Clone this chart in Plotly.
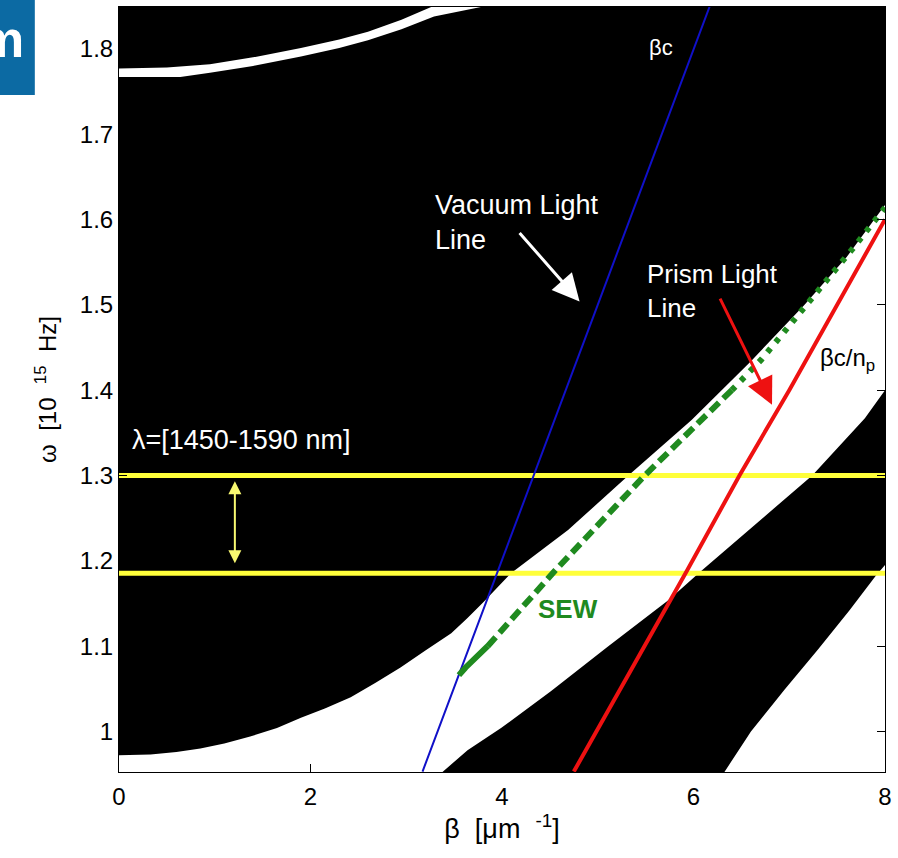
import plotly.graph_objects as go

# ---------------- data ----------------
# beta in [1/um], omega in [1e15 Hz]
band_top_lower_beta = [0.0, 0.64, 0.95, 1.4, 1.9, 2.3, 2.6, 2.95, 3.29, 3.78, 3.9]
band_top_lower_omega = [1.767, 1.767, 1.772, 1.780, 1.791, 1.801, 1.81, 1.823, 1.838, 1.849, 1.86]
band_top_upper_beta = [0.0, 0.5, 0.95, 1.4, 1.9, 2.3, 2.6, 2.95, 3.26, 3.4]
band_top_upper_omega = [1.777, 1.778, 1.782, 1.790, 1.801, 1.811, 1.82, 1.834, 1.849, 1.86]

band_mid_upper_beta = [0.0, 0.33, 0.6, 0.85, 1.1, 1.37, 1.65, 1.9, 2.15, 2.42, 2.68, 2.94, 3.2, 3.47,
                       3.64, 3.81, 4.09, 4.69, 5.32, 5.63, 5.98, 6.6, 7.16, 7.6, 8.0]
band_mid_upper_omega = [0.972, 0.973, 0.976, 0.980, 0.986, 0.994, 1.004, 1.016, 1.027, 1.040, 1.057,
                        1.075, 1.095, 1.115, 1.133, 1.152, 1.185, 1.236, 1.30, 1.33, 1.365, 1.434,
                        1.50, 1.556, 1.617]
band_mid_lower_beta = [3.25, 3.64, 3.99, 4.51, 5.1, 5.74, 6.08, 6.65, 7.24, 7.79, 8.0]
band_mid_lower_omega = [0.94, 0.978, 1.004, 1.047, 1.099, 1.154, 1.188, 1.243, 1.30, 1.367, 1.40]

band_low_beta = [6.25, 6.6, 6.95, 7.3, 7.63, 7.9, 8.0]
band_low_omega = [0.94, 1.0, 1.049, 1.096, 1.142, 1.182, 1.195]

vacuum_beta = [3.17, 4.0, 5.0, 6.17]
vacuum_omega = [0.953, 1.20, 1.50, 1.85]

prism_beta = [4.75, 5.93, 6.48, 7.0, 8.0]
prism_omega = [0.953, 1.188, 1.30, 1.40, 1.60]

sew_solid_beta = [3.55, 3.62, 3.85]
sew_solid_omega = [1.066, 1.075, 1.10]
sew_dash_beta = [3.85, 4.55, 5.49, 6.40]
sew_dash_omega = [1.10, 1.188, 1.30, 1.40]
sew_dot_beta = [6.40, 6.71, 7.65, 8.0]
sew_dot_omega = [1.40, 1.436, 1.564, 1.614]

band_edges_omega = [1.300, 1.1855]   # lambda = 1450 nm and 1590 nm

x_ticks = [0, 2, 4, 6, 8]
y_ticks = [1.0, 1.1, 1.2, 1.3, 1.4, 1.5, 1.6, 1.7, 1.8]
y_tick_text = ["1", "1.1", "1.2", "1.3", "1.4", "1.5", "1.6", "1.7", "1.8"]

# ---------------- figure ----------------
FONT = "Arial, Liberation Sans, sans-serif"
GREEN = "#1f8a1f"
RED = "#ee1111"
fig = go.Figure()

# white bands
fig.add_trace(go.Scatter(
    x=band_top_lower_beta + band_top_upper_beta[::-1],
    y=band_top_lower_omega + band_top_upper_omega[::-1],
    fill="toself", fillcolor="white", mode="lines", line=dict(width=0, color="white"),
    hoverinfo="skip", showlegend=False))

mid_x = band_mid_upper_beta + band_mid_lower_beta[::-1] + [0.0]
mid_y = band_mid_upper_omega + band_mid_lower_omega[::-1] + [0.94]
fig.add_trace(go.Scatter(
    x=mid_x, y=mid_y, fill="toself", fillcolor="white", mode="lines",
    line=dict(width=0, color="white"), hoverinfo="skip", showlegend=False))

fig.add_trace(go.Scatter(
    x=band_low_beta + [8.0], y=band_low_omega + [0.94],
    fill="toself", fillcolor="white", mode="lines",
    line=dict(width=0, color="white"), hoverinfo="skip", showlegend=False))

# yellow wavelength band edges
for w in band_edges_omega:
    fig.add_trace(go.Scatter(x=[0, 8], y=[w, w], mode="lines",
                             line=dict(color="#ffff3a", width=5),
                             hoverinfo="skip", showlegend=False))

# vacuum light line
fig.add_trace(go.Scatter(x=vacuum_beta, y=vacuum_omega, mode="lines",
                         line=dict(color="#1010c8", width=2),
                         hoverinfo="skip", showlegend=False))
# SEW
fig.add_trace(go.Scatter(x=sew_solid_beta, y=sew_solid_omega, mode="lines",
                         line=dict(color=GREEN, width=6),
                         hoverinfo="skip", showlegend=False))
fig.add_trace(go.Scatter(x=sew_dash_beta, y=sew_dash_omega, mode="lines",
                         line=dict(color=GREEN, width=6, dash="12px,6px"),
                         hoverinfo="skip", showlegend=False))
fig.add_trace(go.Scatter(x=sew_dot_beta, y=sew_dot_omega, mode="lines",
                         line=dict(color=GREEN, width=6, dash="5px,8px"),
                         hoverinfo="skip", showlegend=False))
# prism light line
fig.add_trace(go.Scatter(x=prism_beta, y=prism_omega, mode="lines",
                         line=dict(color=RED, width=4),
                         hoverinfo="skip", showlegend=False))

ann = []
ann.append(dict(x=5.66, y=1.802, text="βc", showarrow=False,
                font=dict(color="white", size=22, family=FONT)))
ann.append(dict(x=3.28, y=1.597, text="Vacuum Light<br>Line", showarrow=False,
                xanchor="left", align="left",
                font=dict(color="white", size=27, family=FONT)))
ann.append(dict(x=4.81, y=1.504, ax=4.17, ay=1.586, axref="x", ayref="y",
                text="", showarrow=True, arrowhead=2, arrowsize=1.8,
                arrowwidth=3, arrowcolor="white"))
ann.append(dict(x=5.49, y=1.516, text="Prism Light<br>Line", showarrow=False,
                xanchor="left", align="left",
                font=dict(color="white", size=26, family=FONT)))
ann.append(dict(x=6.82, y=1.383, ax=6.27, ay=1.509, axref="x", ayref="y",
                text="", showarrow=True, arrowhead=2, arrowsize=1.8,
                arrowwidth=3, arrowcolor=RED))
ann.append(dict(x=7.3, y=1.436, text="βc/n<sub>p</sub>", showarrow=False,
                xanchor="left",
                font=dict(color="black", size=24, family=FONT)))
ann.append(dict(x=0.12, y=1.342, text="λ=[1450-1590 nm]", showarrow=False,
                xanchor="left",
                font=dict(color="white", size=27, family=FONT)))
ann.append(dict(x=1.21, y=1.197, ax=1.21, ay=1.295, axref="x", ayref="y",
                text="", showarrow=True, arrowhead=2, arrowside="end+start",
                arrowsize=1.3, arrowwidth=2, arrowcolor="#f8f870"))
ann.append(dict(x=4.69, y=1.143, text="<b>SEW</b>", showarrow=False,
                font=dict(color=GREEN, size=26, family=FONT)))
# corner logo fragment
ann.append(dict(xref="paper", yref="paper", x=-0.121, y=0.958, text="<b>m</b>",
                showarrow=False, xanchor="right", yanchor="middle",
                font=dict(color="white", size=52, family=FONT)))

NB = "\u00a0"
fig.update_layout(
    width=898, height=858,
    margin=dict(l=119, r=13, t=7, b=86),
    paper_bgcolor="white", plot_bgcolor="black",
    showlegend=False,
    annotations=ann,
    shapes=[dict(type="rect", xref="paper", yref="paper",
                 x0=-0.2, x1=-0.1099, y0=0.885, y1=1.02,
                 fillcolor="#0c6aa3", line=dict(width=0), layer="below")],
    font=dict(family=FONT, color="black"),
)
fig.update_xaxes(range=[0, 8], tickvals=x_ticks, ticks="inside", ticklen=8,
                 tickcolor="black", showline=True, linecolor="black", linewidth=1,
                 mirror="ticks", showgrid=False, zeroline=False,
                 tickfont=dict(size=24, family=FONT, color="black"),
                 ticklabelstandoff=3,
                 title=dict(text="β" + NB + NB + "[μm" + NB + NB + "<sup>-1</sup>]", standoff=10,
                            font=dict(size=27, family=FONT, color="black")))
fig.update_yaxes(range=[0.9525, 1.849], tickvals=y_ticks, ticktext=y_tick_text,
                 ticks="inside", ticklen=8,
                 tickcolor="black", showline=True, linecolor="black", linewidth=1,
                 mirror="ticks", showgrid=False, zeroline=False,
                 tickfont=dict(size=24, family=FONT, color="black"),
                 title=dict(text="ω" + NB + NB + "[10" + NB + NB + "<sup>15</sup>" + NB + NB + "Hz]",
                            standoff=16,
                            font=dict(size=24, family=FONT, color="black")))

fig.write_html("out.html", config={"displayModeBar": False},
               post_script="document.body.style.margin='0';")
